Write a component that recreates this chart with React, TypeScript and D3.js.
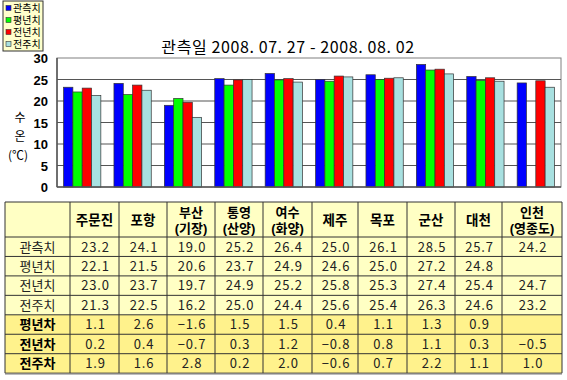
import React from "react";
import * as d3 from "d3";

const categories = ["주문진", "포항", "부산", "통영", "여수", "제주", "목포", "군산", "대천", "인천"];
const categorySub = ["", "", "(기장)", "(산양)", "(화양)", "", "", "", "", "(영종도)"];
const seriesNames = ["관측치", "평년치", "전년치", "전주치"];
const observed = [23.2, 24.1, 19.0, 25.2, 26.4, 25.0, 26.1, 28.5, 25.7, 24.2];
const normal: (number | null)[] = [22.1, 21.5, 20.6, 23.7, 24.9, 24.6, 25.0, 27.2, 24.8, null];
const lastYear = [23.0, 23.7, 19.7, 24.9, 25.2, 25.8, 25.3, 27.4, 25.4, 24.7];
const lastWeek = [21.3, 22.5, 16.2, 25.0, 24.4, 25.6, 25.4, 26.3, 24.6, 23.2];
const diffNames = ["평년차", "전년차", "전주차"];
const diffNormal: (number | null)[] = [1.1, 2.6, -1.6, 1.5, 1.5, 0.4, 1.1, 1.3, 0.9, null];
const diffYear = [0.2, 0.4, -0.7, 0.3, 1.2, -0.8, 0.8, 1.1, 0.3, -0.5];
const diffWeek = [1.9, 1.6, 2.8, 0.2, 2.0, -0.6, 0.7, 2.2, 1.1, 1.0];
const yTicks = [0, 5, 10, 15, 20, 25, 30];
const title = "관측일 2008. 07. 27 -  2008. 08. 02";

const colors = ["#0000FF", "#00FF00", "#FF0000", "#A8E0E0"];
const FONT = "'Noto Sans CJK KR', 'Noto Sans', sans-serif";
const TIGHT = "'Liberation Sans', Arial, 'Noto Sans CJK KR', sans-serif";

const fmt = (v: number | null) => (v == null ? "" : v < 0 ? "−" + Math.abs(v).toFixed(1) : v.toFixed(1));

export default function App() {
  const W = 567, H = 380;
  const plot = { l: 57, r: 561, t: 58, b: 187 };
  const y = d3.scaleLinear().domain([0, 30]).range([plot.b, plot.t]);
  const x0 = d3.scaleBand<string>().domain(categories).range([plot.l, plot.r]).paddingInner(0.26).paddingOuter(0.13);
  const x1 = d3.scaleBand<string>().domain(seriesNames).range([0, x0.bandwidth()]);
  const series = [observed, normal, lastYear, lastWeek];

  const colEdges = [5, 70, 119, 167, 215, 263, 312, 358, 407, 455, 502, 562];
  const tTop = 202, headH = 35, rowH = 19.45;
  const dataRows = [observed, normal, lastYear, lastWeek];
  const diffRows = [diffNormal, diffYear, diffWeek];
  const nRows = 7;
  const tBottom = tTop + headH + nRows * rowH;

  return (
    <svg width={W} height={H} style={{ position: "absolute", left: 0, top: 0, background: "#fff" }} fontFamily={FONT}>
      <rect x={0} y={0} width={W} height={H} fill="#fff" />
      {/* legend */}
      <rect x={3} y={1} width={40} height={50} fill="#FFFFCC" stroke="#333" strokeWidth={1} />
      {seriesNames.map((s, i) => (
        <rect key={s} x={6} y={5.5 + i * 12} width={5} height={5} fill={colors[i]} stroke="#333" strokeWidth={0.6} />
      ))}
      {seriesNames.map((s, i) => (
        <text key={s} x={13} y={12 + i * 12} fontSize={10} fill="#000" fontFamily={TIGHT}>{s}</text>
      ))}
      {/* title */}
      <text x={288} y={53} fontSize={16} textAnchor="middle" letterSpacing={0.6} fill="#000">{title}</text>
      {/* plot */}
      <rect x={plot.l} y={plot.t} width={plot.r - plot.l} height={plot.b - plot.t} fill="#fff" stroke="#808080" strokeWidth={1} />
      {yTicks.filter((t) => t > 0 && t < 30).map((t) => (
        <line key={t} x1={plot.l} x2={plot.r} y1={y(t)} y2={y(t)} stroke="#555" strokeWidth={1.2} />
      ))}
      {yTicks.map((t) => (
        <text key={t} x={48} y={y(t) + 5} fontSize={13} textAnchor="end" fontWeight="bold" fontFamily="Arial, 'Liberation Sans', sans-serif">{t}</text>
      ))}
      <text x={20} y={122} fontSize={12} textAnchor="middle">수</text>
      <text x={20} y={141} fontSize={12} textAnchor="middle">온</text>
      <text x={18} y={160} fontSize={12} textAnchor="middle">(℃)</text>
      {categories.map((c, ci) => (
        <g key={c}>
          {series.map((arr, si) => {
            const v = arr[ci];
            if (v == null) return null;
            return (
              <rect key={si} x={(x0(c) as number) + (x1(seriesNames[si]) as number)} y={y(v)} width={x1.bandwidth()} height={y(0) - y(v)} fill={colors[si]} stroke="#333" strokeWidth={0.7} />
            );
          })}
        </g>
      ))}
      <line x1={plot.l} x2={plot.r} y1={plot.b} y2={plot.b} stroke="#555" strokeWidth={1.5} />
      <line x1={plot.l} x2={plot.l} y1={plot.t} y2={plot.b} stroke="#555" strokeWidth={1.5} />

      {/* table */}
      <rect x={colEdges[0]} y={tTop} width={colEdges[11] - colEdges[0]} height={headH + 4 * rowH} fill="#FFFFC4" />
      <rect x={colEdges[0]} y={tTop + headH + 4 * rowH} width={colEdges[11] - colEdges[0]} height={3 * rowH} fill="#FFF28C" />
      {categories.map((c, i) => {
        const cx = (colEdges[i + 1] + colEdges[i + 2]) / 2;
        return categorySub[i] ? (
          <g key={c} fontFamily={TIGHT}>
            <text x={cx} y={tTop + 15} fontSize={13} fontWeight="bold" textAnchor="middle">{c}</text>
            <text x={cx} y={tTop + 31} fontSize={13} fontWeight="bold" textAnchor="middle">{categorySub[i]}</text>
          </g>
        ) : (
          <text key={c} x={cx} y={tTop + 23} fontSize={13.5} fontWeight="bold" textAnchor="middle">{c}</text>
        );
      })}
      {dataRows.map((row, ri) => (
        <g key={"d" + ri}>
          <text x={(colEdges[0] + colEdges[1]) / 2} y={tTop + headH + ri * rowH + 14.5} fontSize={13} textAnchor="middle" fill="#222">{seriesNames[ri]}</text>
          {row.map((v, ci) => (
            <text key={ci} x={(colEdges[ci + 1] + colEdges[ci + 2]) / 2 + 1} y={tTop + headH + ri * rowH + 14.5} fontSize={13} textAnchor="middle" letterSpacing={0.8} fill="#222">{fmt(v)}</text>
          ))}
        </g>
      ))}
      {diffRows.map((row, ri) => (
        <g key={"f" + ri}>
          <text x={(colEdges[0] + colEdges[1]) / 2} y={tTop + headH + (ri + 4) * rowH + 14.5} fontSize={13} fontWeight="bold" textAnchor="middle">{diffNames[ri]}</text>
          {row.map((v, ci) => (
            <text key={ci} x={(colEdges[ci + 1] + colEdges[ci + 2]) / 2 + 1} y={tTop + headH + (ri + 4) * rowH + 14.5} fontSize={13} textAnchor="middle" letterSpacing={0.8} fill="#222">{fmt(v)}</text>
          ))}
        </g>
      ))}
      {/* grid lines */}
      {colEdges.map((cx, i) => (
        <line key={"v" + i} x1={cx} x2={cx} y1={tTop} y2={tBottom} stroke="#333" strokeWidth={1} />
      ))}
      {d3.range(nRows + 2).map((i) => {
        const yy = i === 0 ? tTop : tTop + headH + (i - 1) * rowH;
        return <line key={"h" + i} x1={colEdges[0]} x2={colEdges[11]} y1={yy} y2={yy} stroke="#333" strokeWidth={1} />;
      })}
      <line x1={colEdges[0]} x2={colEdges[11]} y1={tBottom + 1} y2={tBottom + 1} stroke="#999" strokeWidth={1} />
    </svg>
  );
}
